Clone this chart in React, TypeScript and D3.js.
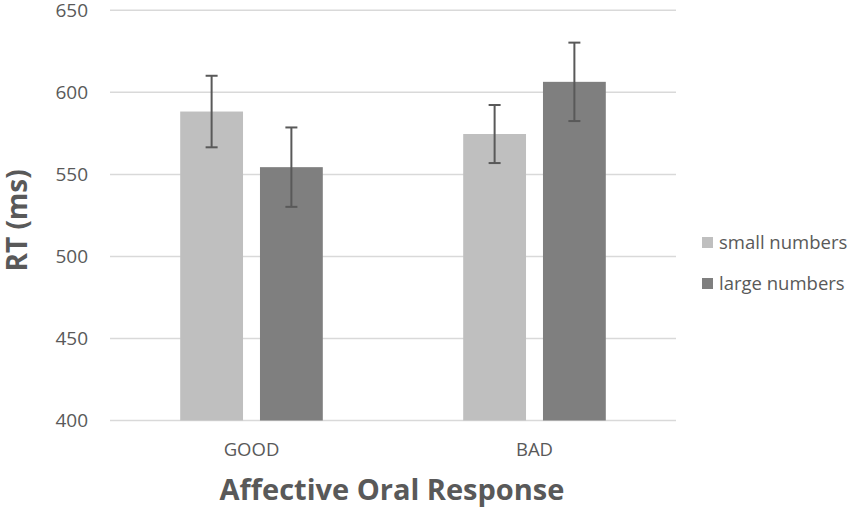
import * as d3 from "d3";

const categories = ["GOOD", "BAD"];
const seriesNames = ["small numbers", "large numbers"];
const smallMeans = [588.3, 574.6];
const largeMeans = [554.4, 606.4];
const smallErrors = [21.8, 17.7];
const largeErrors = [24.2, 23.9];
const yTicks = [400, 450, 500, 550, 600, 650];

const colors = ["#bfbfbf", "#7f7f7f"];
const textColor = "#595959";
const font = "'Open Sans', sans-serif";

const width = 854;
const height = 508;

const App = () => {
  const x0 = d3.scaleBand<string>().domain(categories).range([110, 676]);
  const x1 = d3
    .scaleBand<string>()
    .domain(seriesNames)
    .range([0, x0.bandwidth()])
    .paddingInner(0.2125)
    .paddingOuter(0.88);
  const y = d3.scaleLinear().domain([400, 650]).range([420.5, 10.3]);

  const means = [smallMeans, largeMeans];
  const errors = [smallErrors, largeErrors];

  return (
    <svg
      width={width}
      height={height}
      style={{ position: "absolute", left: 0, top: 0, background: "#fff" }}
    >
      {yTicks.map((t) => (
        <g key={t}>
          <line
            x1={110}
            x2={676}
            y1={y(t)}
            y2={y(t)}
            stroke="#d9d9d9"
            strokeWidth={1.5}
          />
          <text
            x={88}
            y={y(t)}
            dy="0.35em"
            textAnchor="end"
            fill={textColor}
            fontFamily={font}
            fontSize={19}
          >
            {t}
          </text>
        </g>
      ))}

      {categories.map((c, ci) => (
        <g key={c} transform={`translate(${x0(c)},0)`}>
          {seriesNames.map((s, si) => {
            const m = means[si][ci];
            const e = errors[si][ci];
            const bx = x1(s)!;
            const cx = bx + x1.bandwidth() / 2;
            return (
              <g key={s}>
                <rect
                  x={bx}
                  y={y(m)}
                  width={x1.bandwidth()}
                  height={y(400) - y(m)}
                  fill={colors[si]}
                />
                <line x1={cx} x2={cx} y1={y(m + e)} y2={y(m - e)} stroke={textColor} strokeWidth={2} />
                <line x1={cx - 6} x2={cx + 6} y1={y(m + e)} y2={y(m + e)} stroke={textColor} strokeWidth={2} />
                <line x1={cx - 6} x2={cx + 6} y1={y(m - e)} y2={y(m - e)} stroke={textColor} strokeWidth={2} />
              </g>
            );
          })}
          <text
            x={x0.bandwidth() / 2}
            y={456}
            textAnchor="middle"
            fill={textColor}
            fontFamily={font}
            fontSize={18.5}
          >
            {c}
          </text>
        </g>
      ))}

      <text
        x={392}
        y={500}
        textAnchor="middle"
        fill={textColor}
        fontFamily={font}
        fontWeight="bold"
        fontSize={29}
      >
        Affective Oral Response
      </text>

      <text
        transform={`translate(27,${(y(400) + y(650)) / 2 + 5}) rotate(-90)`}
        textAnchor="middle"
        fill={textColor}
        fontFamily={font}
        fontWeight="bold"
        fontSize={28}
      >
        RT (ms)
      </text>

      {seriesNames.map((s, si) => (
        <g key={s} transform={`translate(702,${242.5 + si * 41})`}>
          <rect x={0} y={-5.5} width={11} height={11} fill={colors[si]} />
          <text
            x={17}
            y={0}
            dy="0.35em"
            fill={textColor}
            fontFamily={font}
            fontSize={18.5}
          >
            {s}
          </text>
        </g>
      ))}
    </svg>
  );
};

export default App;
